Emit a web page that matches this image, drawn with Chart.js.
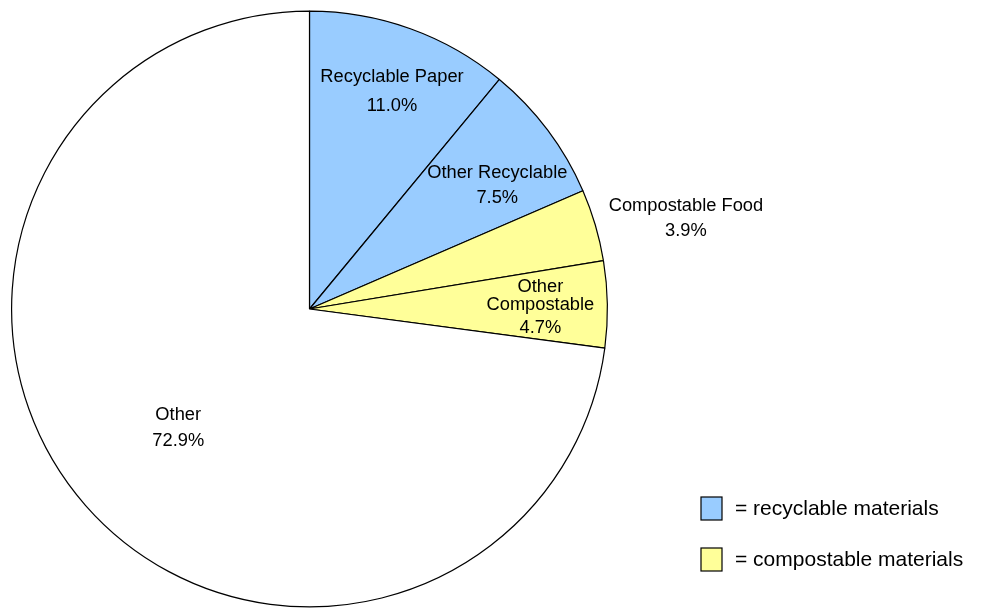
<!DOCTYPE html>
<html>
<head>
<meta charset="utf-8">
<script src="https://cdn.jsdelivr.net/npm/chart.js@4/dist/chart.umd.min.js"></script>
<style>
  html, body { margin: 0; padding: 0; background: #fff; }
  #wrap { width: 982px; height: 608px; position: relative; }
</style>
</head>
<body>
<div id="wrap"><canvas id="wastepie"></canvas></div>
<script>
// slice data, clockwise from 12 o'clock
var categories = ["Recyclable Paper", "Other Recyclable", "Compostable Food", "Other Compostable", "Other"];
var labelLines = [["Recyclable Paper"], ["Other Recyclable"], ["Compostable Food"], ["Other", "Compostable"], ["Other"]];
var shares = [11.0, 7.5, 3.9, 4.7, 72.9];
var groups = ["recyclable", "recyclable", "compostable", "compostable", "other"];
var legendNames = ["= recyclable materials", "= compostable materials"];

var groupColors = { recyclable: "#99ccff", compostable: "#ffff99", other: "#ffffff" };

// where each label sits: fraction of radius, angle nudge (deg), line gaps
var labelSpots = [
    { r: 0.78, nudge: 1, gaps: [29] },
    { r: 0.755, nudge: 3.5, gaps: [25] },
    { r: 1.30, nudge: 2.8, gaps: [25] },
    { r: 0.775, nudge: 0.5, gaps: [18, 23] },
    { r: 0.595, nudge: -1, gaps: [26] }
];

var FONT = '"Liberation Sans", Arial, sans-serif';

var sliceLabels = {
    id: 'sliceLabels',
    afterDatasetsDraw: function(chart) {
        var ctx = chart.ctx;
        var meta = chart.getDatasetMeta(0);
        ctx.save();
        ctx.fillStyle = '#000';
        ctx.textAlign = 'center';
        ctx.textBaseline = 'middle';
        ctx.font = '18.3px ' + FONT;
        meta.data.forEach(function(arc, i) {
            var spot = labelSpots[i];
            var mid = (arc.startAngle + arc.endAngle) / 2 + spot.nudge * Math.PI / 180;
            var rr = arc.outerRadius * spot.r;
            var cx = arc.x + Math.cos(mid) * rr;
            var cy = arc.y + Math.sin(mid) * rr;
            var lines = labelLines[i].concat([shares[i].toFixed(1) + '%']);
            var total = spot.gaps.reduce(function(a, b) { return a + b; }, 0);
            var y = cy - total / 2;
            lines.forEach(function(t, k) {
                ctx.fillText(t, cx, y);
                y += spot.gaps[k] || 0;
            });
        });

        // little key in the lower right
        ctx.textAlign = 'left';
        ctx.font = '21px ' + FONT;
        var keys = [groupColors.recyclable, groupColors.compostable];
        keys.forEach(function(c, k) {
            var y = 497 + k * 51;
            ctx.fillStyle = c;
            ctx.fillRect(701, y, 21, 23);
            ctx.strokeStyle = '#000';
            ctx.lineWidth = 1.2;
            ctx.strokeRect(701, y, 21, 23);
            ctx.fillStyle = '#000';
            ctx.fillText(legendNames[k], 735, y + 12);
        });
        ctx.restore();
    }
};

var pie = new Chart(document.getElementById('wastepie'), {
    type: 'pie',
    data: {
        labels: categories,
        datasets: [{
            data: shares,
            backgroundColor: groups.map(function(g) { return groupColors[g]; }),
            borderColor: '#000',
            borderWidth: 1.2
        }]
    },
    options: {
        responsive: true,
        maintainAspectRatio: false,
        animation: false,
        events: [],
        layout: { padding: { left: 11, top: 10, right: 374, bottom: 0 } },
        plugins: {
            legend: { display: false },
            tooltip: { enabled: false }
        }
    },
    plugins: [sliceLabels]
});
</script>
</body>
</html>
